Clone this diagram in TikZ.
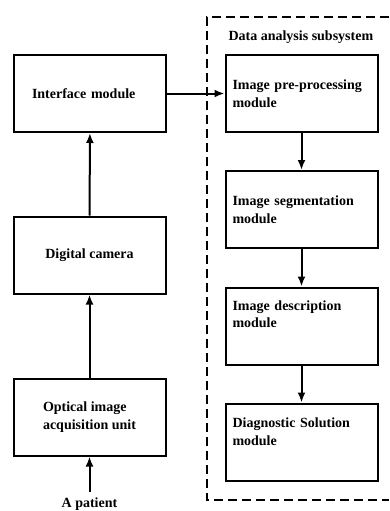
\documentclass[tikz,border=0pt]{standalone}
\usepackage{fontspec}
\setmainfont{Liberation Serif}
\usetikzlibrary{arrows.meta}
\usetikzlibrary{positioning}

\tikzset{
  blk/.style={draw, line width=2pt, minimum width=152pt, minimum height=77pt,
    font=\fontsize{14}{17.5}\selectfont\bfseries, inner sep=0pt},
  rblk/.style={blk, text width=138pt, align=left},
  lblk/.style={blk, align=left},
  flow/.style={-{Latex[length=10pt,width=8pt]}, line width=2pt},
}

\begin{document}
\begin{tikzpicture}[x=1pt,y=-1pt]
				\useasboundingbox (0,0) rectangle (389,511);
				% subsystem frame
				\draw[line width=2pt, dash pattern=on 9pt off 5pt] (389,17) -- (207,17) -- (207,500) -- (389,500);
				\node[anchor=west, font=\fontsize{14}{17.5}\selectfont\bfseries] (title) at (225,37) {Data analysis subsystem};
				% left column
				\node[lblk, text width=116pt] (iface) at (90,93.5) {Interface module};
				\node[lblk] (cam) at (89.5,255) {Digital camera};
				\node[lblk] (opt) at (89.5,417) {Optical image\\acquisition unit};
				\node[font=\fontsize{14}{17.5}\selectfont\bfseries, anchor=north, inner sep=0pt] (patient) at (89.5,498) {A patient};
				% right column
				\node[rblk] (pre) at (301.5,93.5) {Image pre-processing\\module};
				\node[rblk] (seg) at (301.5,209.5) {Image segmentation\\module};
				\node[rblk] (desc) at (301.5,326) {Image description\\module\\[6pt]\mbox{}};
				\node[rblk] (diag) at (301.5,442) {Diagnostic Solution\\module\\[3pt]\mbox{}};
				% arrows
				\draw[flow] ([yshift=6pt]patient.north) -- (opt);
				\draw[flow] (opt) -- (cam);
				\draw[flow] (cam) -- (iface);
				\draw[flow] (iface) -- (pre);
				\draw[flow] (pre) -- (seg);
				\draw[flow] (seg) -- (desc);
				\draw[flow] (desc) -- (diag);
			\end{tikzpicture}
\end{document}
